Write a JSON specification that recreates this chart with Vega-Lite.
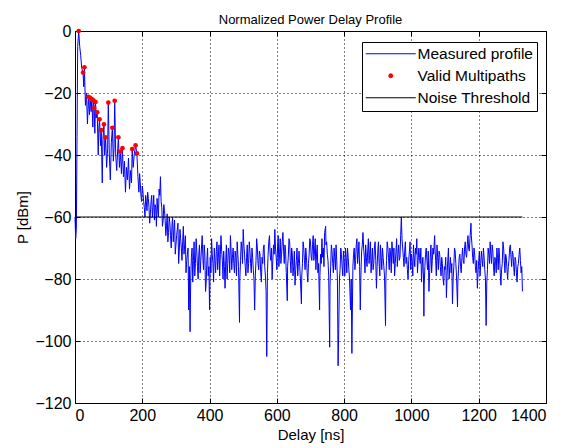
{
"$schema": "https://vega.github.io/schema/vega-lite/v6.json",
"width": 471, "height": 372,
"autosize": {"type": "none"},
"padding": {"left": 75, "top": 31, "right": 24, "bottom": 45},
"background": "white",
"title": {"text": "Normalized Power Delay Profile", "font": "Liberation Sans", "fontSize": 13, "fontWeight": "normal", "color": "black", "offset": -4},
"config": {
 "view": {"stroke": "black", "strokeWidth": 1},
 "axis": {"domain": false, "grid": true, "gridColor": "black", "gridDash": [1, 3], "gridOpacity": 1, "gridWidth": 1,
  "tickColor": "black", "tickSize": -5, "labelPadding": 9, "labelFont": "Liberation Sans", "labelFontSize": 16, "labelColor": "black",
  "titleFont": "Liberation Sans", "titleFontSize": 15, "titleFontWeight": "normal", "titleColor": "black"}
},
"resolve": {"axis": {"x": "independent", "y": "independent"}},
"datasets": {
 "noise": [{"d": 0, "v": -60}, {"d": 1330, "v": -60}],
 "paths": [{"d":11,"v":0},{"d":24,"v":-13.4},{"d":28,"v":-11.7},{"d":40,"v":-21.2},{"d":45,"v":-21.6},{"d":50,"v":-22},{"d":55,"v":-22.4},{"d":61,"v":-22.9},{"d":57,"v":-24.8},{"d":66,"v":-26.2},{"d":73,"v":-28.5},{"d":78,"v":-32},{"d":86,"v":-30.1},{"d":91,"v":-34.3},{"d":99,"v":-23.1},{"d":111,"v":-31.2},{"d":118,"v":-22.5},{"d":129,"v":-34.3},{"d":135,"v":-38.9},{"d":141,"v":-37.8},{"d":170,"v":-38.1},{"d":180,"v":-36.9},{"d":184,"v":-39.5}],
 "profile": [
{"d":0,"v":-60},{"d":2,"v":-67},{"d":4,"v":-64},{"d":6,"v":-34},{"d":8,"v":-5},{"d":11,"v":0},{"d":14,"v":-5},{"d":17,"v":-8},{"d":20,"v":-12},{"d":24,"v":-13.4},{"d":26,"v":-18},{"d":28,"v":-11.7},{"d":31,"v":-24},{"d":34,"v":-20},{"d":37,"v":-30},{"d":40,"v":-21.2},{"d":43,"v":-27},{"d":45,"v":-21.6},{"d":48,"v":-26},{"d":50,"v":-22},{"d":53,"v":-31},{"d":55,"v":-22.4},{"d":57,"v":-24.8},{"d":59,"v":-33},{"d":61,"v":-22.9},{"d":63,"v":-28},{"d":66,"v":-26.2},{"d":69,"v":-40},{"d":71,"v":-31},{"d":73,"v":-28.5},{"d":76,"v":-37},{"d":78,"v":-32},{"d":81,"v":-49},{"d":83,"v":-35},{"d":86,"v":-30.1},{"d":88,"v":-40},{"d":91,"v":-34.3},{"d":94,"v":-44},{"d":97,"v":-38},{"d":99,"v":-23.1},{"d":102,"v":-40},{"d":105,"v":-48},{"d":108,"v":-36},{"d":111,"v":-31.2},{"d":114,"v":-42},{"d":116,"v":-38},{"d":118,"v":-22.5},{"d":121,"v":-40},{"d":124,"v":-45},{"d":127,"v":-38},{"d":129,"v":-34.3},{"d":132,"v":-44},{"d":135,"v":-38.9},{"d":138,"v":-46},{"d":141,"v":-37.8},{"d":144,"v":-47},{"d":147,"v":-42},{"d":150,"v":-52},{"d":153,"v":-44},{"d":156,"v":-48},{"d":159,"v":-41},{"d":162,"v":-51},{"d":165,"v":-45},{"d":168,"v":-49},{"d":170,"v":-38.1},{"d":173,"v":-44},{"d":176,"v":-40},{"d":180,"v":-36.9},{"d":184,"v":-39.5},{"d":187,"v":-47},{"d":190,"v":-52},{"d":192,"v":-46},{"d":194,"v":-49},{"d":196,"v":-53},{"d":198,"v":-55},{"d":200,"v":-50},{"d":202,"v":-52},{"d":204,"v":-55},{"d":206,"v":-57},{"d":208,"v":-60},{"d":210,"v":-53},{"d":212,"v":-55},{"d":214,"v":-58},{"d":216,"v":-52},{"d":218,"v":-54},{"d":220,"v":-57},{"d":222,"v":-62},{"d":224,"v":-59},{"d":226,"v":-55},{"d":228,"v":-53},{"d":230,"v":-60},{"d":232,"v":-57},{"d":234,"v":-53},{"d":236,"v":-61},{"d":238,"v":-56},{"d":240,"v":-57},{"d":242,"v":-63},{"d":244,"v":-54},{"d":246,"v":-58},{"d":248,"v":-60},{"d":250,"v":-51},{"d":252,"v":-53},{"d":254,"v":-47},{"d":256,"v":-55},{"d":258,"v":-57},{"d":260,"v":-63},{"d":262,"v":-61},{"d":264,"v":-56},{"d":266,"v":-58},{"d":268,"v":-61},{"d":270,"v":-66},{"d":272,"v":-63},{"d":274,"v":-59},{"d":276,"v":-68},{"d":278,"v":-65},{"d":280,"v":-60},{"d":282,"v":-62},{"d":284,"v":-66},{"d":286,"v":-70},{"d":288,"v":-63},{"d":290,"v":-60},{"d":292,"v":-68},{"d":294,"v":-64},{"d":296,"v":-61},{"d":298,"v":-72},{"d":300,"v":-69},{"d":302,"v":-66},{"d":304,"v":-64},{"d":306,"v":-62},{"d":308,"v":-75},{"d":310,"v":-71},{"d":312,"v":-64},{"d":314,"v":-67},{"d":316,"v":-70},{"d":318,"v":-74},{"d":320,"v":-68},{"d":322,"v":-63},{"d":324,"v":-72},{"d":326,"v":-69},{"d":328,"v":-66},{"d":330,"v":-78},{"d":332,"v":-74},{"d":334,"v":-72},{"d":336,"v":-70},{"d":338,"v":-90},{"d":340,"v":-76},{"d":342,"v":-97},{"d":344,"v":-80},{"d":346,"v":-73},{"d":348,"v":-70},{"d":350,"v":-81},{"d":352,"v":-74},
{"d":354,"v":-68},{"d":356,"v":-79},{"d":358,"v":-75},{"d":360,"v":-67},{"d":362,"v":-71},{"d":364,"v":-76},{"d":366,"v":-80},{"d":368,"v":-72},{"d":370,"v":-69},{"d":372,"v":-78},{"d":374,"v":-74},{"d":376,"v":-70},{"d":378,"v":-66},{"d":380,"v":-73},{"d":382,"v":-77},{"d":384,"v":-69},{"d":386,"v":-72},{"d":388,"v":-84},{"d":390,"v":-81},{"d":392,"v":-74},{"d":394,"v":-70},{"d":396,"v":-79},{"d":398,"v":-76},{"d":400,"v":-90},{"d":402,"v":-73},{"d":404,"v":-78},{"d":406,"v":-67},{"d":408,"v":-72},{"d":410,"v":-75},{"d":412,"v":-81},{"d":414,"v":-70},{"d":416,"v":-74},{"d":418,"v":-78},{"d":420,"v":-71},{"d":422,"v":-68},{"d":424,"v":-77},{"d":426,"v":-73},{"d":428,"v":-69},{"d":430,"v":-79},{"d":432,"v":-72},{"d":434,"v":-66},{"d":436,"v":-71},{"d":438,"v":-74},{"d":440,"v":-80},{"d":442,"v":-71},{"d":444,"v":-76},{"d":446,"v":-83},{"d":448,"v":-74},{"d":450,"v":-69},{"d":452,"v":-80},{"d":454,"v":-75},{"d":456,"v":-70},{"d":458,"v":-72},{"d":460,"v":-78},{"d":462,"v":-66},{"d":464,"v":-71},{"d":466,"v":-77},{"d":468,"v":-73},{"d":470,"v":-70},{"d":472,"v":-75},{"d":474,"v":-78},{"d":476,"v":-71},{"d":478,"v":-73},{"d":480,"v":-79},{"d":482,"v":-68},{"d":484,"v":-72},{"d":486,"v":-76},{"d":489,"v":-94},{"d":490,"v":-80},{"d":492,"v":-74},{"d":494,"v":-68},{"d":496,"v":-70},{"d":498,"v":-75},{"d":500,"v":-64},{"d":502,"v":-69},{"d":504,"v":-72},{"d":506,"v":-76},{"d":508,"v":-79},{"d":510,"v":-73},{"d":512,"v":-69},{"d":514,"v":-78},{"d":516,"v":-75},{"d":518,"v":-68},{"d":520,"v":-71},{"d":522,"v":-75},{"d":524,"v":-78},{"d":526,"v":-70},{"d":528,"v":-73},{"d":530,"v":-77},{"d":532,"v":-80},{"d":534,"v":-90},{"d":536,"v":-79},{"d":538,"v":-74},{"d":540,"v":-67},{"d":542,"v":-70},{"d":544,"v":-75},{"d":546,"v":-77},{"d":548,"v":-71},{"d":550,"v":-72},{"d":552,"v":-78},{"d":554,"v":-81},{"d":556,"v":-73},{"d":558,"v":-75},{"d":560,"v":-70},{"d":562,"v":-69},{"d":564,"v":-76},{"d":566,"v":-79},{"d":568,"v":-84},{"d":570,"v":-105},{"d":572,"v":-78},{"d":574,"v":-72},{"d":576,"v":-68},{"d":578,"v":-66},{"d":580,"v":-72},{"d":582,"v":-74},{"d":584,"v":-70},{"d":586,"v":-80},{"d":588,"v":-74},{"d":590,"v":-69},{"d":592,"v":-72},{"d":594,"v":-64},{"d":596,"v":-70},{"d":598,"v":-73},{"d":600,"v":-77},{"d":602,"v":-70},{"d":604,"v":-66},{"d":606,"v":-76},{"d":608,"v":-72},{"d":610,"v":-67},{"d":612,"v":-75},{"d":614,"v":-72},{"d":616,"v":-68},{"d":618,"v":-65},{"d":620,"v":-71},{"d":622,"v":-75},{"d":624,"v":-69},{"d":626,"v":-71},{"d":628,"v":-78},{"d":631,"v":-87},{"d":632,"v":-76},{"d":634,"v":-73},{"d":636,"v":-67},{"d":638,"v":-68},{"d":640,"v":-74},{"d":642,"v":-78},{"d":644,"v":-70},{"d":646,"v":-72},{"d":648,"v":-79},{"d":650,"v":-76},{"d":652,"v":-71},{"d":654,"v":-82},{"d":656,"v":-77},{"d":658,"v":-74},{"d":660,"v":-70},{"d":662,"v":-79},{"d":664,"v":-75},{"d":666,"v":-71},{"d":668,"v":-76},{"d":670,"v":-80},{"d":673,"v":-88},{"d":674,"v":-79},{"d":676,"v":-75},{"d":678,"v":-68},{"d":680,"v":-70},{"d":682,"v":-74},{"d":684,"v":-77},{"d":686,"v":-70},{"d":688,"v":-73},{"d":690,"v":-78},{"d":692,"v":-81},{"d":694,"v":-75},{"d":696,"v":-72},{"d":698,"v":-67},{"d":700,"v":-68},{"d":702,"v":-73},{"d":704,"v":-74},{"d":706,"v":-69},{"d":708,"v":-66},{"d":710,"v":-74},{"d":712,"v":-71},{"d":714,"v":-67},{"d":716,"v":-77},{"d":718,"v":-72},{"d":720,"v":-69},{"d":722,"v":-78},{"d":724,"v":-75},{"d":727,"v":-90},{"d":728,"v":-79},{"d":730,"v":-72},{"d":732,"v":-75},{"d":734,"v":-67},{"d":736,"v":-73},{"d":738,"v":-70},{"d":740,"v":-76},{"d":742,"v":-65},{"d":745,"v":-63},{"d":746,"v":-69},{"d":748,"v":-68},{"d":750,"v":-72},{"d":752,"v":-74},{"d":754,"v":-79},{"d":757,"v":-102},{"d":758,"v":-82},{"d":760,"v":-76},{"d":762,"v":-69},{"d":764,"v":-71},{"d":766,"v":-75},{"d":768,"v":-78},{"d":770,"v":-70},{"d":772,"v":-73},{"d":774,"v":-77},{"d":776,"v":-69},{"d":778,"v":-74},{"d":780,"v":-80},{"d":782,"v":-108},{"d":784,"v":-96},{"d":786,"v":-80},{"d":788,"v":-77},{"d":790,"v":-70},{"d":792,"v":-72},{"d":794,"v":-76},{"d":796,"v":-79},{"d":798,"v":-71},{"d":800,"v":-74},{"d":802,"v":-79},{"d":804,"v":-70},{"d":806,"v":-73},{"d":808,"v":-78},{"d":810,"v":-70},{"d":812,"v":-73},{"d":814,"v":-77},{"d":816,"v":-80},{"d":819,"v":-90},{"d":821,"v":-80},{"d":823,"v":-104},{"d":826,"v":-76},{"d":828,"v":-72},{"d":830,"v":-70},{"d":832,"v":-77},{"d":834,"v":-74},{"d":836,"v":-69},{"d":838,"v":-67},{"d":840,"v":-75},{"d":842,"v":-72},{"d":844,"v":-68},{"d":846,"v":-76},{"d":848,"v":-90},{"d":850,"v":-78},{"d":852,"v":-71},{"d":854,"v":-69},{"d":856,"v":-65},{"d":858,"v":-70},{"d":860,"v":-73},{"d":862,"v":-78},{"d":864,"v":-69},{"d":866,"v":-73},{"d":868,"v":-76},{"d":870,"v":-71},{"d":872,"v":-67},{"d":874,"v":-75},{"d":876,"v":-72},{"d":878,"v":-68},{"d":880,"v":-78},{"d":882,"v":-74},{"d":884,"v":-70},{"d":886,"v":-77},{"d":888,"v":-75},{"d":890,"v":-70},{"d":892,"v":-68},{"d":894,"v":-74},{"d":896,"v":-83},{"d":898,"v":-76},{"d":900,"v":-71},{"d":902,"v":-68},{"d":904,"v":-75},{"d":906,"v":-79},{"d":908,"v":-69},{"d":910,"v":-73},{"d":912,"v":-77},{"d":914,"v":-70},{"d":916,"v":-73},{"d":918,"v":-76},{"d":920,"v":-79},{"d":923,"v":-95},{"d":924,"v":-80},{"d":926,"v":-74},{"d":928,"v":-68},{"d":930,"v":-70},{"d":932,"v":-73},{"d":934,"v":-77},{"d":936,"v":-70},{"d":938,"v":-72},{"d":940,"v":-78},{"d":942,"v":-68},{"d":944,"v":-71},{"d":946,"v":-75},{"d":948,"v":-70},{"d":950,"v":-79},{"d":952,"v":-75},{"d":954,"v":-71},{"d":956,"v":-67},{"d":958,"v":-76},{"d":960,"v":-72},{"d":962,"v":-69},{"d":964,"v":-74},{"d":966,"v":-73},{"d":968,"v":-66},{"d":970,"v":-60},{"d":972,"v":-67},{"d":974,"v":-70},{"d":976,"v":-73},{"d":978,"v":-76},{"d":980,"v":-71},{"d":982,"v":-68},{"d":984,"v":-75},{"d":986,"v":-73},{"d":988,"v":-77},{"d":990,"v":-80},{"d":992,"v":-74},{"d":994,"v":-71},{"d":996,"v":-68},{"d":998,"v":-77},{"d":1000,"v":-72},{"d":1002,"v":-74},{"d":1004,"v":-79},{"d":1006,"v":-69},{"d":1008,"v":-73},{"d":1010,"v":-76},{"d":1012,"v":-70},{"d":1014,"v":-72},{"d":1016,"v":-67},{"d":1018,"v":-78},{"d":1020,"v":-74},{"d":1022,"v":-70},{"d":1024,"v":-73},{"d":1026,"v":-75},{"d":1028,"v":-70},{"d":1030,"v":-81},{"d":1032,"v":-76},{"d":1034,"v":-73},{"d":1036,"v":-80},{"d":1037,"v":-92},{"d":1038,"v":-82},{"d":1040,"v":-76},{"d":1042,"v":-72},{"d":1044,"v":-70},{"d":1046,"v":-74},{"d":1048,"v":-77},{"d":1050,"v":-71},{"d":1052,"v":-84},{"d":1054,"v":-78},{"d":1056,"v":-73},{"d":1058,"v":-69},{"d":1060,"v":-78},{"d":1062,"v":-74},{"d":1064,"v":-70},{"d":1066,"v":-72},{"d":1069,"v":-66},{"d":1070,"v":-70},{"d":1072,"v":-74},{"d":1074,"v":-79},{"d":1076,"v":-69},{"d":1078,"v":-73},{"d":1080,"v":-77},{"d":1082,"v":-71},{"d":1084,"v":-72},{"d":1086,"v":-76},{"d":1088,"v":-79},{"d":1090,"v":-73},{"d":1092,"v":-75},{"d":1094,"v":-80},{"d":1096,"v":-82},{"d":1098,"v":-76},{"d":1100,"v":-77},{"d":1102,"v":-73},{"d":1104,"v":-86},{"d":1106,"v":-79},{"d":1108,"v":-74},{"d":1110,"v":-70},{"d":1112,"v":-80},{"d":1114,"v":-76},{"d":1116,"v":-73},{"d":1118,"v":-78},{"d":1120,"v":-75},{"d":1122,"v":-88},{"d":1124,"v":-80},{"d":1126,"v":-76},{"d":1128,"v":-70},{"d":1130,"v":-71},{"d":1132,"v":-75},{"d":1134,"v":-79},{"d":1137,"v":-89},{"d":1138,"v":-81},{"d":1140,"v":-77},{"d":1142,"v":-73},{"d":1144,"v":-72},{"d":1146,"v":-76},{"d":1148,"v":-78},{"d":1150,"v":-73},{"d":1152,"v":-70},{"d":1154,"v":-74},{"d":1156,"v":-75},{"d":1158,"v":-70},{"d":1160,"v":-68},{"d":1162,"v":-72},{"d":1164,"v":-73},{"d":1166,"v":-69},{"d":1168,"v":-66},{"d":1170,"v":-70},{"d":1172,"v":-71},{"d":1174,"v":-67},{"d":1177,"v":-62},{"d":1178,"v":-66},{"d":1180,"v":-69},{"d":1182,"v":-73},{"d":1184,"v":-75},{"d":1186,"v":-70},{"d":1188,"v":-72},{"d":1190,"v":-76},{"d":1192,"v":-78},{"d":1194,"v":-74},{"d":1196,"v":-83},{"d":1198,"v":-78},{"d":1200,"v":-74},{"d":1202,"v":-71},{"d":1204,"v":-79},{"d":1206,"v":-75},{"d":1208,"v":-71},{"d":1210,"v":-74},{"d":1212,"v":-76},{"d":1214,"v":-70},{"d":1216,"v":-73},{"d":1218,"v":-77},{"d":1220,"v":-80},{"d":1222,"v":-95},{"d":1224,"v":-81},{"d":1226,"v":-77},{"d":1228,"v":-70},{"d":1230,"v":-72},{"d":1232,"v":-75},{"d":1234,"v":-68},{"d":1236,"v":-72},{"d":1238,"v":-75},{"d":1240,"v":-69},{"d":1242,"v":-71},{"d":1244,"v":-76},{"d":1246,"v":-79},{"d":1248,"v":-73},{"d":1250,"v":-74},{"d":1252,"v":-78},{"d":1254,"v":-70},{"d":1256,"v":-73},{"d":1258,"v":-77},{"d":1260,"v":-70},{"d":1262,"v":-73},{"d":1264,"v":-78},{"d":1266,"v":-82},{"d":1268,"v":-77},{"d":1270,"v":-75},{"d":1272,"v":-68},{"d":1274,"v":-70},{"d":1276,"v":-74},{"d":1278,"v":-78},{"d":1280,"v":-72},{"d":1282,"v":-73},{"d":1284,"v":-77},{"d":1286,"v":-80},{"d":1288,"v":-76},{"d":1290,"v":-74},{"d":1292,"v":-70},{"d":1294,"v":-69},{"d":1296,"v":-73},{"d":1298,"v":-76},{"d":1300,"v":-71},{"d":1302,"v":-72},{"d":1304,"v":-76},{"d":1306,"v":-79},{"d":1308,"v":-73},{"d":1310,"v":-74},{"d":1312,"v":-78},{"d":1314,"v":-81},{"d":1316,"v":-76},{"d":1318,"v":-75},{"d":1320,"v":-72},{"d":1322,"v":-70},{"d":1324,"v":-74},{"d":1326,"v":-78},{"d":1328,"v":-76},{"d":1330,"v":-84}
 ]
},
"encoding": {
 "x": {"field": "d", "type": "quantitative", "scale": {"domain": [0, 1400], "nice": false, "zero": false},
  "axis": {"title": "Delay [ns]", "format": "d", "values": [0,200,400,600,800,1000,1200,1400], "titlePadding": 4}},
 "y": {"field": "v", "type": "quantitative", "scale": {"domain": [-120, 0], "nice": false, "zero": false},
  "axis": {"title": "P [dBm]", "format": "d", "values": [-120,-100,-80,-60,-40,-20,0], "titlePadding": 4}}
},
"layer": [
 {"data": {"name": "profile"}, "mark": {"type": "line", "strokeWidth": 1},
  "encoding": {"color": {"datum": "Measured profile", "type": "nominal",
   "scale": {"domain": ["Measured profile", "Valid Multipaths", "Noise Threshold"], "range": ["#0000ff", "#ff0000", "#000000"]},
   "legend": {"title": null, "orient": "none", "legendX": 287, "legendY": 11, "direction": "vertical",
    "labelFont": "Liberation Sans", "labelFontSize": 15.5, "labelColor": "black", "strokeColor": "black", "fillColor": "white",
    "padding": 4, "rowPadding": 5, "cornerRadius": 0, "symbolOffset": 17, "labelOffset": 19,
    "encode": {"symbols": {"update": {
      "shape": {"signal": "datum.value === 'Valid Multipaths' ? 'circle' : 'M-5,0H5'"},
      "size": {"signal": "datum.value === 'Valid Multipaths' ? 16 : 100"},
      "fill": {"signal": "datum.value === 'Valid Multipaths' ? '#ff0000' : 'transparent'"},
      "stroke": {"signal": "datum.value === 'Valid Multipaths' ? 'transparent' : (datum.value === 'Noise Threshold' ? '#000000' : '#0000ff')"},
      "strokeWidth": {"value": 1}, "opacity": {"value": 1}}}}}}}},
 {"data": {"name": "noise"}, "mark": {"type": "line", "strokeWidth": 1},
  "encoding": {
   "x": {"field": "d", "type": "quantitative", "axis": {"orient": "top", "labels": false, "grid": false, "title": null, "values": [0,200,400,600,800,1000,1200,1400]}},
   "y": {"field": "v", "type": "quantitative", "axis": {"orient": "right", "labels": false, "grid": false, "title": null, "values": [-120,-100,-80,-60,-40,-20,0]}},
   "color": {"datum": "Noise Threshold", "type": "nominal"}}},
 {"data": {"name": "paths"}, "mark": {"type": "point", "filled": true, "size": 22, "opacity": 1},
  "encoding": {
   "x": {"field": "d", "type": "quantitative", "axis": null},
   "y": {"field": "v", "type": "quantitative", "axis": null},
   "color": {"datum": "Valid Multipaths", "type": "nominal"}}}
]
}
